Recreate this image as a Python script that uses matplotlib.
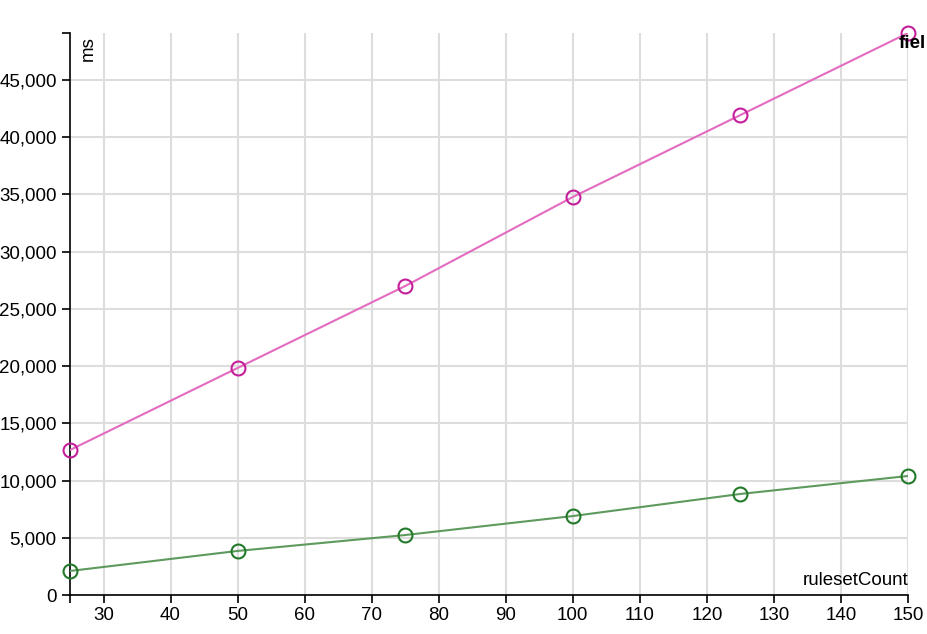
import matplotlib
matplotlib.use("Agg")
import matplotlib.pyplot as plt
from matplotlib.ticker import FuncFormatter

ruleset_count = [25, 50, 75, 100, 125, 150]
ms_pink = [12670, 19840, 27000, 34780, 41940, 49110]
ms_green = [2100, 3850, 5240, 6900, 8830, 10400]
x_ticks = [30, 40, 50, 60, 70, 80, 90, 100, 110, 120, 130, 140, 150]
y_ticks = [0, 5000, 10000, 15000, 20000, 25000, 30000, 35000, 40000, 45000]

plt.rcParams.update({"font.family": ["Liberation Sans", "DejaVu Sans"], "font.size": 13.5})

W, H = 927, 634
fig = plt.figure(figsize=(W / 100, H / 100), dpi=100)
ax = fig.add_axes([70 / W, (H - 595) / H, 838 / W, 562 / H])

ax.plot(ruleset_count, ms_pink, color="#e36bc0", lw=1.5, zorder=3)
ax.plot(ruleset_count, ms_pink, ls="none", marker="o", ms=10, mfc="none",
        mec="#c41e9a", mew=1.5, zorder=4, clip_on=False)
ax.plot(ruleset_count, ms_green, color="#5e9a5e", lw=1.5, zorder=3)
ax.plot(ruleset_count, ms_green, ls="none", marker="o", ms=10, mfc="none",
        mec="#23792a", mew=1.5, zorder=4, clip_on=False)

ax.set_xlim(ruleset_count[0], ruleset_count[-1])
ax.set_ylim(0, max(ms_pink))
ax.set_xticks(x_ticks)
ax.set_yticks(y_ticks)
ax.set_xticks([ruleset_count[0]], minor=True)
ax.set_yticks([max(ms_pink)], minor=True)
ax.yaxis.set_major_formatter(FuncFormatter(lambda v, p: f"{int(v):,}"))
ax.tick_params(which="both", length=6, width=1.2, color="black", labelsize=13.5)
ax.tick_params(axis="x", pad=3)
ax.grid(True, which="major", color="#dddddd", lw=1.5, zorder=0)
for s in ("top", "right"):
    ax.spines[s].set_visible(False)
for s in ("left", "bottom"):
    ax.spines[s].set_linewidth(1.2)

ax.text(0.012, 0.995, "ms", transform=ax.transAxes, rotation=90, ha="left", va="top", fontsize=13.5)
ax.text(1.0, 0.01, "rulesetCount", transform=ax.transAxes, ha="right", va="bottom", fontsize=13.5)
fig.text(899 / W, 1 - 43 / H, "fiel", fontsize=13.5, fontweight="bold", ha="left", va="center")

fig.savefig("out.png", dpi=100)
